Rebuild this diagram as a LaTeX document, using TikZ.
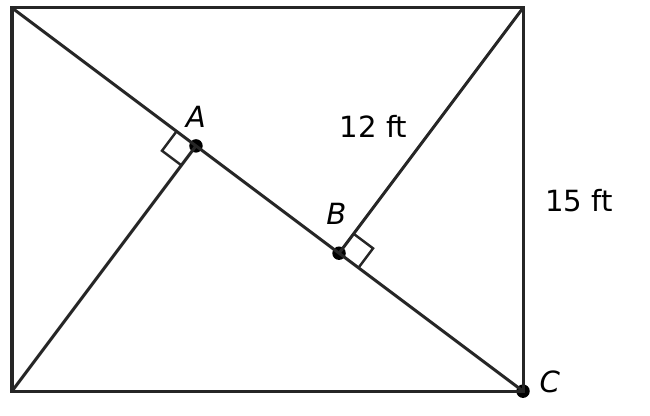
\documentclass[tikz,border=0pt]{standalone}
\usepackage{fontspec}
\setmainfont{DejaVu Sans}
\usetikzlibrary{calc, positioning}
\tikzset{dot/.style = {circle, fill, inner sep = 0pt, minimum size = 6pt},
  edge/.style = {line width = 1.35pt, black!85},
  lbl/.style = {font = \fontsize{13}{15}\selectfont, inner sep = 1pt}}
\def \marksize {0.38cm}

\begin{document}
\begin{tikzpicture}[x = 0.4cm, y = 0.4cm]
\useasboundingbox (-0.47,-0.94) rectangle (24.97,15.31);

\coordinate (tl) at (0,15);
\coordinate (tr) at (20,15);
\coordinate (bl) at (0,0);

\node (C) [dot] at (20,0) {};
\node (A) [dot] at (7.2,9.6) {};
\node (B) [dot] at (12.8,5.4) {};

\draw[edge] (bl) rectangle (tr);
\draw[edge] (tl) -- (C.center);
\draw[edge] (bl) -- (A.center);
\draw[edge] (tr) -- (B.center);

% right angle marks
\coordinate (a1) at ($(A.center)!\marksize!(tl)$);
\coordinate (a2) at ($(A.center)!\marksize!(bl)$);
\draw[edge, line width = 1.1pt] (a1) -- ($(a1)+(a2)-(A.center)$) -- (a2);
\coordinate (b1) at ($(B.center)!\marksize!(C.center)$);
\coordinate (b2) at ($(B.center)!\marksize!(tr)$);
\draw[edge, line width = 1.1pt] (b1) -- ($(b1)+(b2)-(B.center)$) -- (b2);

\node (labA) [lbl] at ($(A)+(0,1.15)$) {\itshape A};
\node (labB) [lbl] at ($(B)+(-0.1,1.55)$) {\itshape B};
\node (labC) [lbl] at ($(C)+(1.05,0.35)$) {\itshape C};
\node (len12) [lbl] at (14.15,10.35) {12 ft};
\node (len15) [lbl] at (22.2,7.45) {15 ft};

\end{tikzpicture}
\end{document}
